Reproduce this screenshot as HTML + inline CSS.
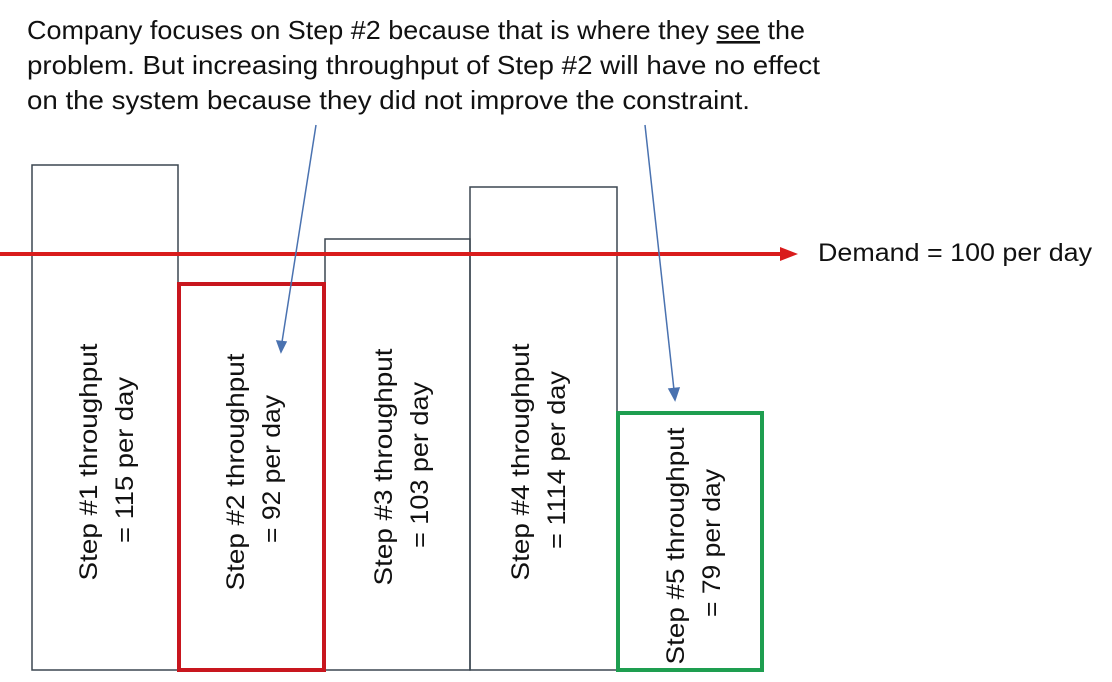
<!DOCTYPE html>
<html><head><meta charset="utf-8"><style>
html,body{margin:0;padding:0;background:#fff;}
svg{display:block;}
text{font-family:"Liberation Sans",sans-serif;fill:#111;}
</style></head><body>
<svg width="1112" height="682" viewBox="0 0 1112 682" xmlns="http://www.w3.org/2000/svg">
<g font-size="26">
<text x="27" y="39" textLength="778" lengthAdjust="spacingAndGlyphs">Company focuses on Step #2 because that is where they <tspan text-decoration="underline">see</tspan> the</text>
<text x="27" y="74" textLength="793" lengthAdjust="spacingAndGlyphs">problem. But increasing throughput of Step #2 will have no effect</text>
<text x="27" y="109" textLength="723" lengthAdjust="spacingAndGlyphs">on the system because they did not improve the constraint.</text>
</g>
<g fill="none" stroke="#3b4650" stroke-width="1.5">
<rect x="32" y="165" width="146" height="505"/>
<rect x="325" y="239" width="145" height="431"/>
<rect x="470" y="187" width="147" height="483"/>
</g>
<rect x="179" y="284" width="145" height="386" fill="none" stroke="#c8161e" stroke-width="4"/>
<rect x="618" y="413" width="144" height="257" fill="none" stroke="#1e9e50" stroke-width="4"/>
<line x1="0" y1="254" x2="785" y2="254" stroke="#d91c1c" stroke-width="4"/>
<polygon points="780,247 798,254 780,261" fill="#d91c1c"/>
<text x="818" y="261" font-size="25" textLength="274" lengthAdjust="spacingAndGlyphs">Demand = 100 per day</text>
<g stroke="#4a72b0" stroke-width="1.5" fill="#4a72b0">
<line x1="316" y1="125" x2="282" y2="342"/>
<polygon points="277,341 281,352 286,342"/>
<line x1="645" y1="125" x2="674" y2="390"/>
<polygon points="669,389 675,400 679,388"/>
</g>
<g font-size="25">
<text transform="translate(97,462) rotate(-90)" text-anchor="middle" textLength="237" lengthAdjust="spacingAndGlyphs">Step #1 throughput</text>
<text transform="translate(133,460) rotate(-90)" text-anchor="middle" textLength="166" lengthAdjust="spacingAndGlyphs">= 115 per day</text>
<text transform="translate(244,472) rotate(-90)" text-anchor="middle" textLength="237" lengthAdjust="spacingAndGlyphs">Step #2 throughput</text>
<text transform="translate(280,469) rotate(-90)" text-anchor="middle" textLength="148" lengthAdjust="spacingAndGlyphs">= 92 per day</text>
<text transform="translate(392,467) rotate(-90)" text-anchor="middle" textLength="237" lengthAdjust="spacingAndGlyphs">Step #3 throughput</text>
<text transform="translate(428,465) rotate(-90)" text-anchor="middle" textLength="166" lengthAdjust="spacingAndGlyphs">= 103 per day</text>
<text transform="translate(529,462) rotate(-90)" text-anchor="middle" textLength="237" lengthAdjust="spacingAndGlyphs">Step #4 throughput</text>
<text transform="translate(565,460) rotate(-90)" text-anchor="middle" textLength="178" lengthAdjust="spacingAndGlyphs">= 1114 per day</text>
<text transform="translate(684,546) rotate(-90)" text-anchor="middle" textLength="237" lengthAdjust="spacingAndGlyphs">Step #5 throughput</text>
<text transform="translate(720,543) rotate(-90)" text-anchor="middle" textLength="148" lengthAdjust="spacingAndGlyphs">= 79 per day</text>
</g>
</svg>
</body></html>
